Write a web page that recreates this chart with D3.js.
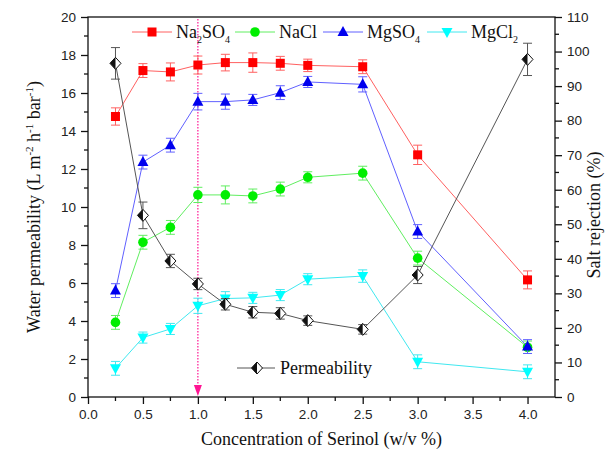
<!DOCTYPE html>
<html>
<head>
<meta charset="utf-8">
<script src="https://cdn.jsdelivr.net/npm/d3@7"></script>
<style>
  body { margin: 0; background: #fff; }
  svg { display: block; }
  .tick text { font-family: "Liberation Sans", Arial, sans-serif; font-size: 13.5px; fill: #222; }
  .ttl { font-family: "Liberation Serif", "Times New Roman", serif; font-size: 18px; fill: #111; }
</style>
</head>
<body>
<svg id="chart" width="605" height="454"></svg>
<script>
// concentration of serinol (w/v %)
var conc = [0.25, 0.5, 0.75, 1.0, 1.25, 1.5, 1.75, 2.0, 2.5, 3.0, 4.0];

// salt rejection (%) - right axis
var na2so4 = [81.2, 94.5, 94.1, 96.1, 96.8, 96.8, 96.6, 96.0, 95.6, 70.1, 33.9];
var na2so4_err = [2.5, 2.0, 2.6, 2.6, 2.4, 2.8, 2.0, 1.8, 2.0, 2.8, 2.6];
var nacl = [21.6, 44.8, 49.1, 58.5, 58.5, 58.2, 60.2, 63.6, 64.8, 40.2, 14.4];
var nacl_err = [2.0, 2.0, 2.0, 2.2, 2.6, 2.0, 2.0, 1.6, 2.0, 2.0, 1.8];
var mgso4 = [30.8, 68.0, 72.9, 85.5, 85.5, 86.0, 88.1, 91.2, 90.5, 47.9, 14.6];
var mgso4_err = [2.0, 2.0, 2.0, 2.4, 2.2, 1.6, 2.0, 1.6, 2.2, 2.0, 2.0];
var mgcl2 = [8.3, 17.2, 19.7, 26.4, 28.5, 28.7, 29.5, 34.1, 35.0, 10.2, 7.3];
var mgcl2_err = [2.0, 1.6, 1.6, 2.2, 2.0, 1.6, 1.6, 1.6, 1.8, 2.0, 2.0];

// water permeability (L m-2 h-1 bar-1) - left axis
var perm = [17.56, 9.56, 7.16, 5.95, 4.88, 4.46, 4.4, 4.02, 3.56, 6.42, 17.77];
var perm_err = [0.83, 0.7, 0.35, 0.3, 0.3, 0.3, 0.3, 0.25, 0.25, 0.45, 0.85];

var xTicks = [0, 0.5, 1, 1.5, 2, 2.5, 3, 3.5, 4];
var yLTicks = [0, 2, 4, 6, 8, 10, 12, 14, 16, 18, 20];
var yRTicks = [0, 10, 20, 30, 40, 50, 60, 70, 80, 90, 100, 110];

var svg = d3.select("#chart");
var L = 88, R = 555, T = 17, B = 397;

var x = d3.scaleLinear().domain([0, 4.25]).range([L, R]);
var yL = d3.scaleLinear().domain([0, 20]).range([B, T]);
var yR = d3.scaleLinear().domain([0, 110]).range([B, T]);

//EIXOS
let gx = svg.append("g").attr("transform", "translate(0," + B + ")")
    .call(d3.axisBottom(x).tickValues(xTicks).tickFormat(d3.format(".1f")).tickSize(7).tickPadding(5));
let gl = svg.append("g").attr("transform", "translate(" + L + ",0)")
    .call(d3.axisLeft(yL).tickValues(yLTicks).tickFormat(d3.format("d")).tickSize(7).tickPadding(5));
let gr = svg.append("g").attr("transform", "translate(" + R + ",0)")
    .call(d3.axisRight(yR).tickValues(yRTicks).tickFormat(d3.format("d")).tickSize(7).tickPadding(5));
[gx, gl, gr].forEach(function (g) {
    g.select(".domain").remove();
    g.selectAll(".tick line").attr("stroke", "#111").attr("stroke-width", 1.3);
});

// minor ticks
d3.range(0.25, 4.25, 0.5).forEach(function (v) {
    svg.append("line").attr("x1", x(v)).attr("x2", x(v)).attr("y1", B).attr("y2", B + 4)
        .attr("stroke", "#111").attr("stroke-width", 1.3);
});
d3.range(1, 20, 2).forEach(function (v) {
    svg.append("line").attr("x1", L - 4).attr("x2", L).attr("y1", yL(v)).attr("y2", yL(v))
        .attr("stroke", "#111").attr("stroke-width", 1.3);
});
d3.range(5, 110, 10).forEach(function (v) {
    svg.append("line").attr("x1", R).attr("x2", R + 4).attr("y1", yR(v)).attr("y2", yR(v))
        .attr("stroke", "#111").attr("stroke-width", 1.3);
});

// frame
svg.append("rect").attr("x", L).attr("y", T).attr("width", R - L).attr("height", B - T)
    .attr("fill", "none").attr("stroke", "#111").attr("stroke-width", 1.3);

// titles
svg.append("text").attr("class", "ttl").attr("x", x(2.125)).attr("y", 445)
    .attr("text-anchor", "middle").text("Concentration of Serinol (w/v %)");

let yt = svg.append("text").attr("class", "ttl")
    .attr("transform", "translate(40," + ((T + B) / 2) + ") rotate(-90)")
    .attr("text-anchor", "middle");
yt.append("tspan").text("Water permeability (L m");
yt.append("tspan").attr("dy", -7).attr("font-size", 11).text("-2");
yt.append("tspan").attr("dy", 7).text(" h");
yt.append("tspan").attr("dy", -7).attr("font-size", 11).text("-1");
yt.append("tspan").attr("dy", 7).text(" bar");
yt.append("tspan").attr("dy", -7).attr("font-size", 11).text("-1");
yt.append("tspan").attr("dy", 7).text(")");

svg.append("text").attr("class", "ttl").attr("font-size", 19)
    .attr("transform", "translate(600,215) rotate(-90)")
    .attr("text-anchor", "middle").text("Salt rejection (%)");

//LINHA PONTILHADA EM 1.0
svg.append("line").attr("x1", x(1)).attr("x2", x(1)).attr("y1", T + 2).attr("y2", B - 8)
    .attr("stroke", "#ff1493").attr("stroke-width", 1.2).attr("stroke-dasharray", "1.5,1.5");
svg.append("path")
    .attr("d", "M" + (x(1) - 4) + "," + (B - 12) + "L" + (x(1) + 4) + "," + (B - 12) + "L" + x(1) + "," + (B - 1) + "Z")
    .attr("fill", "#ff1493");

//MARCADORES
function marker(g, type, color, cx, cy) {
    if (type == "square") {
        g.append("rect").attr("x", cx - 4.5).attr("y", cy - 4.5).attr("width", 9).attr("height", 9).attr("fill", color);
    } else if (type == "circle") {
        g.append("circle").attr("cx", cx).attr("cy", cy).attr("r", 4.8).attr("fill", color);
    } else if (type == "up") {
        g.append("path").attr("d", "M" + cx + "," + (cy - 6) + "L" + (cx + 5.5) + "," + (cy + 4) + "L" + (cx - 5.5) + "," + (cy + 4) + "Z").attr("fill", color);
    } else if (type == "down") {
        g.append("path").attr("d", "M" + cx + "," + (cy + 6) + "L" + (cx + 5.5) + "," + (cy - 4) + "L" + (cx - 5.5) + "," + (cy - 4) + "Z").attr("fill", color);
    } else if (type == "diamond") {
        g.append("path").attr("d", "M" + cx + "," + (cy - 6) + "L" + (cx + 5.5) + "," + cy + "L" + cx + "," + (cy + 6) + "L" + (cx - 5.5) + "," + cy + "Z")
            .attr("fill", "#fff").attr("stroke", "#111").attr("stroke-width", 1);
        g.append("path").attr("d", "M" + cx + "," + (cy - 6) + "L" + (cx - 5.5) + "," + cy + "L" + cx + "," + (cy + 6) + "Z")
            .attr("fill", "#111");
    }
}

let series = [
    { vals: na2so4, err: na2so4_err, color: "#ff0000", line: "#ff6060", type: "square", y: yR },
    { vals: nacl, err: nacl_err, color: "#00ee00", line: "#60ee60", type: "circle", y: yR },
    { vals: mgso4, err: mgso4_err, color: "#0000ee", line: "#6060ff", type: "up", y: yR },
    { vals: mgcl2, err: mgcl2_err, color: "#00ffff", line: "#40e8f0", type: "down", y: yR },
    { vals: perm, err: perm_err, color: "#111", line: "#555", type: "diamond", y: yL }
];

series.forEach(function (s) {
    let g = svg.append("g");
    let pts = conc.map(function (c, i) { return [x(c), s.y(s.vals[i])]; });
    g.append("path").attr("d", d3.line()(pts)).attr("fill", "none")
        .attr("stroke", s.line).attr("stroke-width", 1);
    conc.forEach(function (c, i) {
        let cx = x(c);
        let top = Math.max(T, s.y(s.vals[i] + s.err[i]));
        let bot = s.y(s.vals[i] - s.err[i]);
        g.append("line").attr("x1", cx).attr("x2", cx).attr("y1", top).attr("y2", bot)
            .attr("stroke", s.line).attr("stroke-width", 1);
        [top, bot].forEach(function (yy) {
            if (yy <= T) return;
            g.append("line").attr("x1", cx - 4.5).attr("x2", cx + 4.5).attr("y1", yy).attr("y2", yy)
                .attr("stroke", s.line).attr("stroke-width", 1);
        });
    });
    conc.forEach(function (c, i) {
        marker(g, s.type, s.color, x(c), s.y(s.vals[i]));
    });
});

//LEGENDA
let legenda = [
    { name: ["Na", "2", "SO", "4"], x0: 132, s: series[0] },
    { name: ["NaCl"], x0: 235, s: series[1] },
    { name: ["MgSO", "4"], x0: 323, s: series[2] },
    { name: ["MgCl", "2"], x0: 427, s: series[3] }
];
let lg = svg.append("g");
legenda.forEach(function (d) {
    let ly = 32;
    lg.append("line").attr("x1", d.x0).attr("x2", d.x0 + 40).attr("y1", ly).attr("y2", ly)
        .attr("stroke", d.s.line).attr("stroke-width", 1);
    marker(lg, d.s.type, d.s.color, d.x0 + 20, ly);
    let t = lg.append("text").attr("class", "ttl").attr("font-size", 16.5).attr("x", d.x0 + 44).attr("y", ly + 6);
    d.name.forEach(function (p, j) {
        if (j % 2 == 0) t.append("tspan").attr("dy", j == 0 ? 0 : -5).text(p);
        else t.append("tspan").attr("dy", 5).attr("font-size", 10).text(p);
    });
});

let py = 368;
lg.append("line").attr("x1", 237).attr("x2", 275).attr("y1", py).attr("y2", py)
    .attr("stroke", series[4].line).attr("stroke-width", 1);
marker(lg, "diamond", "#111", 257, py);
lg.append("text").attr("class", "ttl").attr("font-size", 16.5).attr("x", 280).attr("y", py + 6).text("Permeability");
</script>
</body>
</html>
